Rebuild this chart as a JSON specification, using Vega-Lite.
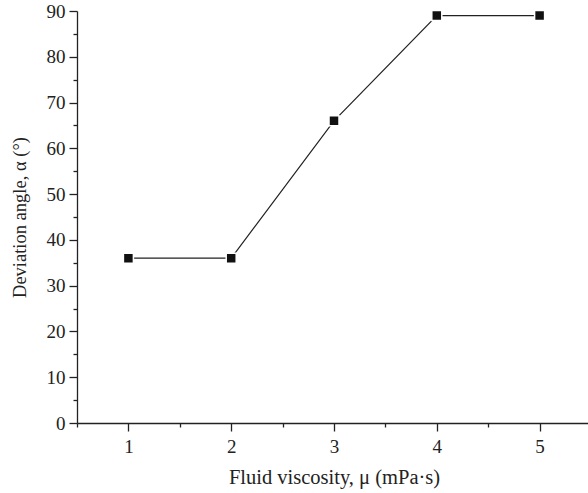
{
  "$schema": "https://vega.github.io/schema/vega-lite/v6.json",
  "width": 514,
  "height": 412,
  "autosize": {"type": "none"},
  "padding": {"left": 77, "top": 11, "right": 0, "bottom": 70},
  "background": "white",
  "config": {
    "view": {"stroke": null},
    "axis": {
      "labelFont": "Liberation Serif",
      "titleFont": "Liberation Serif",
      "labelFontSize": 19,
      "titleFontSize": 20,
      "titleFontWeight": "normal",
      "labelColor": "#222",
      "titleColor": "#222",
      "domainColor": "#222",
      "tickColor": "#222",
      "domainWidth": 1.3,
      "tickWidth": 1.3,
      "grid": false
    }
  },
  "data": {"values": [
    {"mu": 1, "alpha": 36},
    {"mu": 2, "alpha": 36},
    {"mu": 3, "alpha": 66},
    {"mu": 4, "alpha": 89},
    {"mu": 5, "alpha": 89}
  ]},
  "resolve": {"axis": {"x": "independent", "y": "independent"}},
  "layer": [
    {
      "mark": {"type": "line", "color": "#222", "strokeWidth": 1.2},
      "encoding": {
        "x": {"field": "mu", "type": "quantitative", "scale": {"domain": [0.5, 5.5], "nice": false},
          "axis": {"orient": "bottom", "values": [1, 2, 3, 4, 5], "tickSize": 8, "labelPadding": 6, "title": "Fluid viscosity, μ (mPa·s)", "titleFontSize": 20.5, "titlePadding": 11}},
        "y": {"field": "alpha", "type": "quantitative", "scale": {"domain": [0, 90], "nice": false},
          "axis": {"orient": "left", "values": [0, 10, 20, 30, 40, 50, 60, 70, 80, 90], "tickSize": 8, "labelPadding": 4, "title": "Deviation angle, α (°)", "titleFontSize": 18.5, "titlePadding": 17}}
      }
    },
    {
      "mark": {"type": "square", "size": 100, "color": "#111", "opacity": 1, "stroke": "white", "strokeWidth": 1.5},
      "encoding": {
        "x": {"field": "mu", "type": "quantitative",
          "axis": {"orient": "bottom", "values": [0.5, 1.5, 2.5, 3.5, 4.5, 5.5], "tickSize": 4, "labels": false, "domain": false, "title": null}},
        "y": {"field": "alpha", "type": "quantitative",
          "axis": {"orient": "left", "values": [5, 15, 25, 35, 45, 55, 65, 75, 85], "tickSize": 4, "labels": false, "domain": false, "title": null}}
      }
    }
  ]
}
